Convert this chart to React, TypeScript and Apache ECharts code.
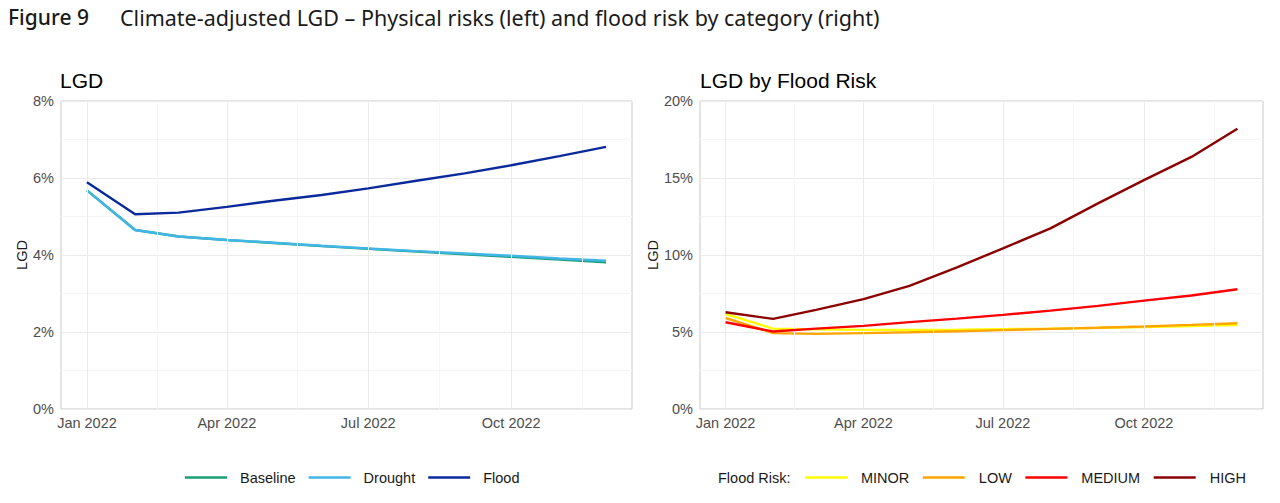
import React, { useEffect, useRef } from "react";
import * as echarts from "echarts";

// Monthly observation dates
const months = [
  "2022-01-01", "2022-02-01", "2022-03-01", "2022-04-01", "2022-05-01", "2022-06-01",
  "2022-07-01", "2022-08-01", "2022-09-01", "2022-10-01", "2022-11-01", "2022-12-01",
];

// Left panel: LGD (%) by physical-risk scenario
const baseline = [5.68, 4.65, 4.48, 4.39, 4.31, 4.23, 4.16, 4.09, 4.02, 3.95, 3.88, 3.81];
const drought = [5.68, 4.65, 4.48, 4.39, 4.32, 4.24, 4.17, 4.1, 4.04, 3.98, 3.91, 3.85];
const flood = [5.89, 5.06, 5.1, 5.25, 5.41, 5.56, 5.73, 5.93, 6.12, 6.33, 6.57, 6.81];

// Right panel: LGD (%) by flood-risk category
const minorRisk = [6.17, 5.22, 5.17, 5.14, 5.14, 5.15, 5.18, 5.22, 5.27, 5.32, 5.38, 5.45];
const lowRisk = [5.91, 4.93, 4.88, 4.93, 4.98, 5.05, 5.12, 5.2, 5.28, 5.36, 5.46, 5.57];
const mediumRisk = [5.63, 5.03, 5.22, 5.4, 5.64, 5.87, 6.11, 6.39, 6.7, 7.04, 7.37, 7.78];
const highRisk = [6.28, 5.85, 6.44, 7.13, 7.99, 9.2, 10.43, 11.73, 13.35, 14.86, 16.37, 18.2];

// Axis breaks
const dateBreaks = ["2022-01-01", "2022-04-01", "2022-07-01", "2022-10-01", "2023-01-01"];
const monthNames = ["Jan", "Feb", "Mar", "Apr", "May", "Jun", "Jul", "Aug", "Sep", "Oct", "Nov", "Dec"];
const leftTicks = [0, 2, 4, 6, 8];
const rightTicks = [0, 5, 10, 15, 20];

const AXIS_FONT = "'Liberation Sans', Arial, sans-serif";
const AXIS_GREY = "#4D4D4D";
const GRID_MAJOR = "#EBEBEB";
const GRID_MINOR = "#F5F5F5";
const BORDER = "#C9C9C9";

const ts = (s: string) => new Date(s + "T00:00:00Z").getTime();

export default function App() {
  const ref = useRef<HTMLDivElement>(null);

  useEffect(() => {
    document.body.style.margin = "0";
    if (!ref.current) return;
    const chart = echarts.init(ref.current, undefined, { renderer: "svg" });

    const t0 = ts(months[0]);
    const t1 = ts(months[months.length - 1]);
    const pad = (t1 - t0) * 0.05;
    const xMin = t0 - pad;
    const xMax = t1 + pad;

    const breakTs = dateBreaks.map(ts);
    const majorTs = breakTs.filter((t) => t >= xMin && t <= xMax);
    const minorTs: number[] = [];
    for (let i = 0; i < breakTs.length - 1; i++) {
      const m = (breakTs[i] + breakTs[i + 1]) / 2;
      if (m >= xMin && m <= xMax) minorTs.push(m);
    }

    const fmtDate = (v: number) => {
      const d = new Date(v);
      return `${monthNames[d.getUTCMonth()]} ${d.getUTCFullYear()}`;
    };

    const pairs = (vals: number[]) => months.map((m, i) => [ts(m), vals[i]]);

    const xAxisFor = (gridIndex: number) => ({
      type: "time",
      gridIndex,
      min: xMin,
      max: xMax,
      axisLine: { show: false },
      axisTick: { show: false },
      axisLabel: { show: false },
      splitLine: { show: false },
    });

    const yAxisFor = (gridIndex: number, ticks: number[], nameGap: number) => ({
      type: "value",
      gridIndex,
      min: ticks[0],
      max: ticks[ticks.length - 1],
      interval: ticks[1] - ticks[0],
      name: "LGD",
      nameLocation: "middle",
      nameGap,
      nameTextStyle: { color: "#1A1A1A", fontSize: 14.5, fontFamily: AXIS_FONT },
      axisLine: { show: false },
      axisTick: { show: false },
      axisLabel: {
        color: AXIS_GREY,
        fontSize: 14.5,
        fontFamily: AXIS_FONT,
        margin: 7,
        formatter: (v: number) => `${v}%`,
      },
      splitLine: { show: true, lineStyle: { color: GRID_MAJOR, width: 1 } },
      minorTick: { show: false, splitNumber: 2 },
      minorSplitLine: { show: true, lineStyle: { color: GRID_MINOR, width: 1 } },
    });

    // Vertical gridlines for the date axis, with the break labels under the panel
    const dateGrid = (xAxisIndex: number, yAxisIndex: number) => ({
      type: "line",
      name: `date-grid-${xAxisIndex}`,
      xAxisIndex,
      yAxisIndex,
      data: [],
      z: 0,
      silent: true,
      markLine: {
        silent: true,
        symbol: ["none", "none"],
        data: [
          ...minorTs.map((t) => ({
            xAxis: t,
            label: { show: false },
            lineStyle: { color: GRID_MINOR, type: "solid", width: 1 },
          })),
          ...majorTs.map((t) => ({
            xAxis: t,
            label: {
              show: true,
              position: "start",
              formatter: fmtDate(t),
              color: AXIS_GREY,
              fontSize: 14.5,
              fontFamily: AXIS_FONT,
              distance: 6,
            },
            lineStyle: { color: GRID_MAJOR, type: "solid", width: 1 },
          })),
        ],
      },
    });

    const lineSeries = (name: string, vals: number[], color: string, xi: number, z: number) => ({
      type: "line",
      name,
      xAxisIndex: xi,
      yAxisIndex: xi,
      data: pairs(vals),
      showSymbol: false,
      symbol: "none",
      z,
      lineStyle: { color, width: 2.4 },
      itemStyle: { color },
    });

    const legendText = { color: "#1A1A1A", fontSize: 14.5, fontFamily: AXIS_FONT };

    chart.setOption({
      animation: false,
      backgroundColor: "#FFFFFF",
      title: [
        {
          text: "Figure 9",
          left: 8,
          top: 6,
          padding: 0,
          textStyle: { fontFamily: "'Noto Sans', sans-serif", fontSize: 21, fontWeight: 500, color: "#1A1A1A" },
        },
        {
          text: "Climate-adjusted LGD – Physical risks (left) and flood risk by category (right)",
          left: 120,
          top: 6,
          padding: 0,
          textStyle: { fontFamily: "'Noto Sans', sans-serif", fontSize: 21.5, fontWeight: 400, color: "#1A1A1A" },
        },
        {
          text: "LGD",
          left: 60,
          top: 70,
          padding: 0,
          textStyle: { fontFamily: AXIS_FONT, fontSize: 21, fontWeight: 400, color: "#000000" },
        },
        {
          text: "LGD by Flood Risk",
          left: 700,
          top: 70,
          padding: 0,
          textStyle: { fontFamily: AXIS_FONT, fontSize: 21, fontWeight: 400, color: "#000000" },
        },
        {
          text: "Flood Risk:",
          left: 718,
          top: 470,
          padding: 0,
          textStyle: { ...legendText, fontWeight: 400 },
        },
      ],
      legend: [
        {
          data: ["Baseline", "Drought", "Flood"],
          left: 185,
          top: 470,
          padding: 0,
          icon: "rect",
          itemWidth: 42,
          itemHeight: 2.5,
          itemGap: 13,
          textStyle: { ...legendText, padding: [0, 0, 0, 8] },
          selectedMode: false,
        },
        {
          data: ["MINOR", "LOW", "MEDIUM", "HIGH"],
          left: 805,
          top: 470,
          padding: 0,
          icon: "rect",
          itemWidth: 42,
          itemHeight: 2.5,
          itemGap: 13.5,
          textStyle: { ...legendText, padding: [0, 0, 0, 9] },
          selectedMode: false,
        },
      ],
      grid: [
        {
          left: 61, right: 648, top: 101, bottom: 94,
          show: true, borderColor: BORDER, borderWidth: 1, backgroundColor: "transparent",
          containLabel: false,
        },
        {
          left: 700, right: 17, top: 101, bottom: 94,
          show: true, borderColor: BORDER, borderWidth: 1, backgroundColor: "transparent",
          containLabel: false,
        },
      ],
      xAxis: [xAxisFor(0), xAxisFor(1)],
      yAxis: [yAxisFor(0, leftTicks, 30), yAxisFor(1, rightTicks, 38)],
      series: [
        dateGrid(0, 0),
        dateGrid(1, 1),
        lineSeries("Baseline", baseline, "#1B9E77", 0, 3),
        lineSeries("Drought", drought, "#41B6E6", 0, 4),
        lineSeries("Flood", flood, "#0A2A9C", 0, 5),
        lineSeries("MINOR", minorRisk, "#FFFF00", 1, 3),
        lineSeries("LOW", lowRisk, "#FFA500", 1, 4),
        lineSeries("MEDIUM", mediumRisk, "#FF0000", 1, 5),
        lineSeries("HIGH", highRisk, "#8B0000", 1, 6),
      ],
    });

    return () => chart.dispose();
  }, []);

  return <div ref={ref} style={{ width: 1280, height: 503 }} />;
}
